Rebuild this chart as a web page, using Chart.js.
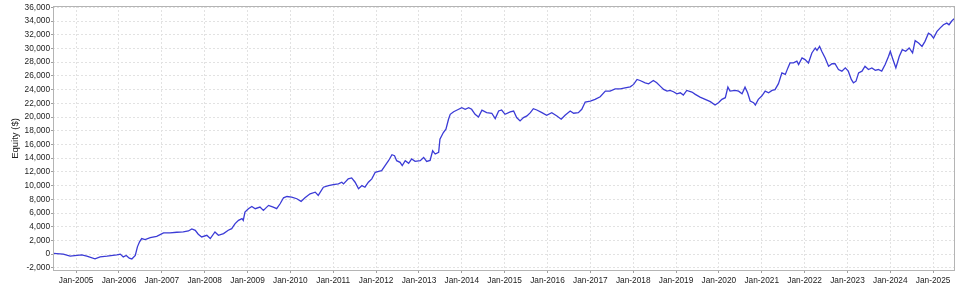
<!DOCTYPE html>
<html>
<head>
<meta charset="utf-8">
<script src="https://cdn.jsdelivr.net/npm/chart.js@4"></script>
<style>
  html, body { margin: 0; padding: 0; background: #ffffff; }
  #wrap { width: 960px; height: 287px; position: relative; }
</style>
</head>
<body>
<div id="wrap"><canvas id="c" width="960" height="287"></canvas></div>
<script>
// Dates as decimal years
const dates = [
  2004.47, 2004.70, 2004.86, 2005.13, 2005.25, 2005.44, 2005.56, 2005.72, 2005.95, 2006.03,
  2006.10, 2006.17, 2006.24, 2006.30, 2006.38, 2006.43, 2006.48, 2006.53, 2006.61, 2006.73,
  2006.88, 2007.04, 2007.19, 2007.35, 2007.50, 2007.62, 2007.70, 2007.78, 2007.85, 2007.93,
  2008.05, 2008.13, 2008.24, 2008.32, 2008.44, 2008.55, 2008.63, 2008.71, 2008.79, 2008.87,
  2008.90, 2008.94, 2009.02, 2009.10, 2009.18, 2009.29, 2009.37, 2009.49, 2009.60, 2009.68,
  2009.76, 2009.84, 2009.92, 2010.03, 2010.15, 2010.25, 2010.34, 2010.46, 2010.58, 2010.65,
  2010.77, 2010.89, 2011.00, 2011.12, 2011.20, 2011.24, 2011.35, 2011.43, 2011.51, 2011.59,
  2011.67, 2011.74, 2011.82, 2011.90, 2011.98, 2012.06, 2012.13, 2012.21, 2012.29, 2012.37,
  2012.43, 2012.48, 2012.56, 2012.61, 2012.68, 2012.76, 2012.83, 2012.91, 2013.03, 2013.11,
  2013.18, 2013.26, 2013.32, 2013.38, 2013.46, 2013.49, 2013.57, 2013.63, 2013.69, 2013.73,
  2013.81, 2013.88, 2014.00, 2014.08, 2014.16, 2014.23, 2014.31, 2014.39, 2014.47, 2014.58,
  2014.70, 2014.78, 2014.86, 2014.93, 2015.01, 2015.13, 2015.21, 2015.28, 2015.36, 2015.44,
  2015.52, 2015.60, 2015.67, 2015.75, 2015.87, 2015.98, 2016.10, 2016.22, 2016.32, 2016.41,
  2016.53, 2016.61, 2016.72, 2016.80, 2016.88, 2017.00, 2017.11, 2017.23, 2017.35, 2017.46,
  2017.58, 2017.70, 2017.81, 2017.93, 2018.01, 2018.09, 2018.16, 2018.28, 2018.36, 2018.47,
  2018.55, 2018.63, 2018.71, 2018.79, 2018.86, 2018.94, 2019.02, 2019.10, 2019.17, 2019.25,
  2019.37, 2019.45, 2019.56, 2019.68, 2019.80, 2019.91, 2019.99, 2020.07, 2020.15, 2020.21,
  2020.26, 2020.38, 2020.46, 2020.54, 2020.61, 2020.67, 2020.73, 2020.81, 2020.85, 2020.92,
  2021.00, 2021.08, 2021.16, 2021.24, 2021.31, 2021.39, 2021.47, 2021.55, 2021.61, 2021.66,
  2021.74, 2021.82, 2021.86, 2021.94, 2022.01, 2022.09, 2022.17, 2022.25, 2022.29, 2022.35,
  2022.40, 2022.48, 2022.56, 2022.64, 2022.71, 2022.79, 2022.87, 2022.95, 2023.02, 2023.09,
  2023.14, 2023.20, 2023.26, 2023.34, 2023.41, 2023.49, 2023.57, 2023.65, 2023.72, 2023.80,
  2023.88, 2023.96, 2024.00, 2024.05, 2024.13, 2024.21, 2024.28, 2024.36, 2024.44, 2024.52,
  2024.58, 2024.66, 2024.74, 2024.81, 2024.89, 2024.95, 2025.01, 2025.09, 2025.16, 2025.24,
  2025.32, 2025.37, 2025.44, 2025.49
];
// Equity values ($)
const equity = [
  100, 0, -300, -100, -300, -680, -390, -300, -100, 0,
  -400, -200, -600, -700, -200, 1060, 1800, 2270, 2130, 2420,
  2600, 3090, 3090, 3190, 3240, 3380, 3670, 3480, 2900, 2510,
  2750, 2270, 3230, 2750, 3000, 3480, 3720, 4450, 4930, 5180,
  4930, 6140, 6630, 6960, 6630, 6860, 6380, 7110, 6860, 6630,
  7350, 8220, 8410, 8310, 8080, 7690, 8220, 8800, 9040, 8560,
  9760, 10000, 10150, 10250, 10490, 10250, 10980, 11120, 10490, 9530,
  10000, 9760, 10490, 10980, 11940, 12090, 12180, 12910, 13630, 14500,
  14360, 13630, 13390, 12910, 13630, 13240, 13880, 13530, 13630, 14110,
  13530, 13680, 15080, 14600, 14840, 16780, 17740, 18230, 19680, 20400,
  20780, 20990, 21360, 21130, 21360, 21130, 20400, 20010, 20990, 20640,
  20550, 19770, 20880, 21030, 20400, 20740, 20880, 19920, 19440, 19920,
  20160, 20640, 21220, 21030, 20640, 20260, 20640, 20160, 19680, 20260,
  20880, 20550, 20640, 21130, 22190, 22330, 22580, 22960, 23780, 23780,
  24120, 24120, 24260, 24400, 24760, 25480, 25330, 24990, 24850, 25330,
  24990, 24510, 24030, 23780, 23880, 23690, 23390, 23540, 23200, 23880,
  23640, 23300, 22910, 22580, 22240, 21760, 22090, 22580, 22820, 24360,
  23780, 23880, 23780, 23390, 24360, 23540, 22330, 22090, 21760, 22580,
  23060, 23780, 23540, 23880, 24000, 24870, 26440, 26210, 27170, 27890,
  27890, 28140, 27660, 28620, 28380, 27890, 29350, 30070, 29730, 30310,
  29590, 28620, 27410, 27770, 27770, 26930, 26690, 27170, 26690, 25480,
  24990, 25230, 26440, 26690, 27410, 26930, 27170, 26810, 26930, 26690,
  27660, 28860, 29590, 28620, 27170, 28860, 29830, 29590, 30070, 29350,
  31140, 30800, 30310, 31040, 32240, 32000, 31520, 32490, 32970, 33460,
  33700, 33460, 34040, 34330
];
const xTickYears = [2005,2006,2007,2008,2009,2010,2011,2012,2013,2014,2015,2016,2017,2018,2019,2020,2021,2022,2023,2024,2025];
const yTickValues = [-2000,0,2000,4000,6000,8000,10000,12000,14000,16000,18000,20000,22000,24000,26000,28000,30000,32000,34000,36000];
const xRange = [2004.46, 2025.51];
const yRange = [-2460, 36200];
const yTitle = 'Equity ($)';

const points = dates.map((d, i) => ({ x: d, y: equity[i] }));

const tickFont = { family: 'Liberation Sans, Arial, sans-serif', size: 8.3 };

const frame = {
  id: 'frame',
  afterDatasetsDraw(chart) {
    const a = chart.chartArea, ctx = chart.ctx;
    ctx.save();
    ctx.strokeStyle = '#b4b4b4';
    ctx.lineWidth = 1;
    ctx.strokeRect(Math.round(a.left) + 0.5, Math.round(a.top) + 0.5,
                   Math.round(a.right - a.left) - 1, Math.round(a.bottom - a.top) - 1);
    ctx.restore();
  }
};

const gridOpts = { color: '#e2e2e2', lineWidth: 1, tickLength: 2, tickColor: '#a0a0a0', tickBorderDash: [] };

new Chart(document.getElementById('c'), {
  type: 'line',
  data: {
    datasets: [{
      data: points,
      borderColor: '#3b3bd6',
      borderWidth: 1.3,
      pointRadius: 0,
      tension: 0,
      fill: false
    }]
  },
  options: {
    responsive: false,
    animation: false,
    layout: { padding: { top: 4, right: 5, left: 0, bottom: 0 } },
    plugins: { legend: { display: false }, tooltip: { enabled: false } },
    scales: {
      x: {
        type: 'linear',
        min: xRange[0], max: xRange[1],
        afterBuildTicks: (s) => { s.ticks = xTickYears.map(v => ({ value: v })); },
        afterFit: (s) => { s.height = 16; },
        ticks: {
          autoSkip: false, maxRotation: 0, padding: 3,
          color: '#222', font: tickFont,
          callback: (v) => 'Jan-' + v
        },
        grid: gridOpts,
        border: { display: false, dash: [2, 2] }
      },
      y: {
        type: 'linear',
        min: yRange[0], max: yRange[1],
        afterBuildTicks: (s) => { s.ticks = yTickValues.map(v => ({ value: v })); },
        afterFit: (s) => { s.width = 53; },
        ticks: {
          color: '#222', font: tickFont, padding: 1,
          callback: (v) => v.toLocaleString('en-US')
        },
        title: {
          display: true, text: yTitle, color: '#222',
          font: { family: 'Liberation Sans, Arial, sans-serif', size: 9.5 },
          padding: { top: 10, bottom: 0 }
        },
        grid: gridOpts,
        border: { display: false, dash: [2, 2] }
      }
    }
  },
  plugins: [frame]
});
</script>
</body>
</html>
